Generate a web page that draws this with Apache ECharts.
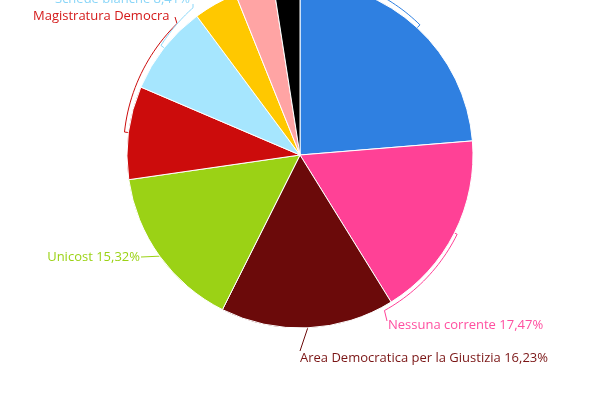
<!DOCTYPE html>
<html>
<head>
<meta charset="utf-8">
<script src="https://cdn.jsdelivr.net/npm/echarts@6/dist/echarts.min.js"></script>
<style>
html,body{margin:0;padding:0;background:#fff;}
#chart{width:600px;height:400px;}
</style>
</head>
<body>
<div id="chart"></div>
<script>
// Data
var categories = [
  'Magistratura Indipendente',
  'Nessuna corrente',
  'Area Democratica per la Giustizia',
  'Unicost',
  'Magistratura Democratica',
  'Schede bianche',
  'Autonomia e Indipendenza',
  'Schede nulle',
  'Altri'
];
var values = [23.70, 17.47, 16.23, 15.32, 8.70, 8.41, 4.10, 3.60, 2.47];
var colors = ['#2f80e1', '#ff4196', '#6b0a0a', '#9bd215', '#cc0c0c', '#a6e6fe', '#ffc800', '#ffa4a4', '#000000'];
var labelColors = ['#2f80e1', '#ff4fa0', '#7a1515', '#9bd215', '#d41a1a', '#8ad6f8', '#ffc800', '#ffa4a4', '#000000'];

// Layout (positions/styles only)
var CX = 300, CY = 155, R = 173;
var labelPos = {
  0: {x: 330, y: -40, align: 'left', arcEnd: 12, r0: 177, r1: 180, end: [330, -40]},
  1: {x: 388, y: 325, align: 'left', arcEnd: 151.5, r0: 176, r1: 177, end: [387, 321]},
  2: {x: 300, y: 358, align: 'left', arcEnd: null, end: [300, 351]},
  3: {x: 140, y: 257, align: 'right', arcEnd: null, end: [141, 257]},
  4: {x: 33, y: 16, align: 'left', arcEnd: 316.9, r0: 177, r1: 180, end: [175, 17]},
  5: {x: 55, y: -1, align: 'left', arcEnd: 324, r0: 177, r1: 182, end: [193, 4]}
};

function pt(theta, r) {
  var a = theta * Math.PI / 180;
  return [CX + r * Math.sin(a), CY - r * Math.cos(a)];
}
var total = values.reduce(function (s, v) { return s + v; }, 0);
var midAngles = [];
(function () {
  var acc = 0;
  values.forEach(function (v) {
    midAngles.push((acc + v / 2) / total * 360);
    acc += v;
  });
})();

var chart = echarts.init(document.getElementById('chart'));
var data = categories.map(function (c, i) {
  var lc = i === 5 ? '#8ad6f8' : colors[i];
  var item = {
    name: c,
    value: values[i],
    itemStyle: {color: colors[i]},
    label: {color: labelColors[i]},
    labelLine: {lineStyle: {color: lc}}
  };
  if (i >= 6) {
    item.label.show = false;
    item.labelLine.show = false;
  }
  if (i === 4) {
    item.label.width = 140;
    item.label.overflow = 'truncate';
    item.label.ellipsis = '';
  }
  return item;
});

chart.setOption({
  animation: false,
  series: [{
    type: 'pie',
    center: [CX, CY],
    radius: R,
    startAngle: 90,
    clockwise: true,
    avoidLabelOverlap: false,
    itemStyle: {borderColor: '#ffffff', borderWidth: 1},
    label: {
      show: true,
      position: 'outside',
      fontFamily: 'Open Sans',
      fontSize: 13,
      formatter: function (p) {
        return p.name + ' ' + p.value.toFixed(2).replace('.', ',') + '%';
      }
    },
    labelLine: {show: true, length: 8, length2: 8, lineStyle: {width: 1}},
    labelLayout: function (params) {
      var i = params.dataIndex;
      var p = labelPos[i];
      if (!p) return {};
      var m = midAngles[i];
      var pts = [pt(m, R)];
      if (p.arcEnd != null) {
        var steps = 24;
        for (var k = 0; k <= steps; k++) {
          var t = k / steps;
          pts.push(pt(m + (p.arcEnd - m) * t, p.r0 + (p.r1 - p.r0) * t));
        }
      }
      pts.push(p.end);
      return {x: p.x, y: p.y, align: p.align, verticalAlign: 'middle', labelLinePoints: pts};
    },
    data: data
  }]
});
</script>
</body>
</html>
